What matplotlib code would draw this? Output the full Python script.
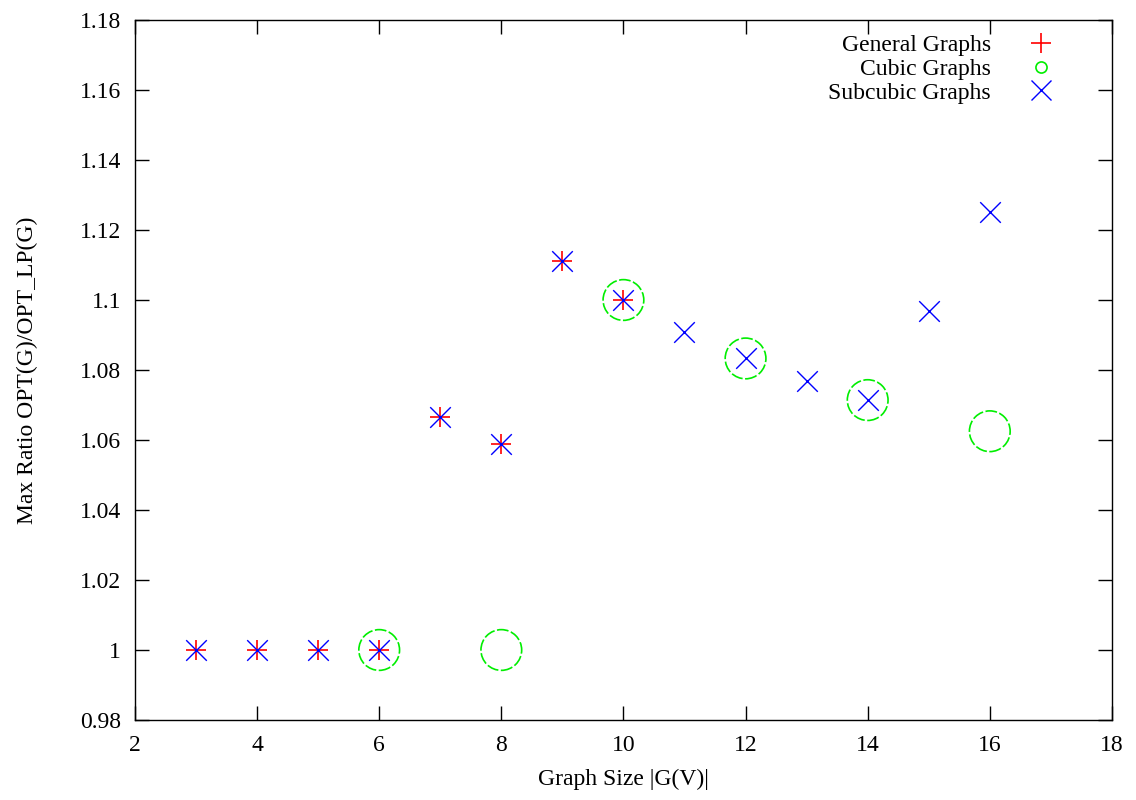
import matplotlib.pyplot as plt
from matplotlib.lines import Line2D

plt.rcParams['font.family'] = ['Liberation Serif', 'DejaVu Serif']

# data
gen_x = [3, 4, 5, 6, 7, 8, 9, 10]
gen_y = [1.0, 1.0, 1.0, 1.0, 1.0667, 1.0588, 1.1111, 1.1]

cub_x = [6, 8, 10, 12, 14, 16]
cub_y = [1.0, 1.0, 1.1, 1.0833, 1.0714, 1.0625]

sub_x = [3, 4, 5, 6, 7, 8, 9, 10, 11, 12, 13, 14, 15, 16]
sub_y = [1.0, 1.0, 1.0, 1.0, 1.0667, 1.0588, 1.1111, 1.1, 1.0909,
         1.0833, 1.0769, 1.0714, 1.0968, 1.125]

xticks = [2, 4, 6, 8, 10, 12, 14, 16, 18]
yticks = [0.98, 1.0, 1.02, 1.04, 1.06, 1.08, 1.1, 1.12, 1.14, 1.16, 1.18]
ytick_labels = ['0.98', '1', '1.02', '1.04', '1.06', '1.08', '1.1',
                '1.12', '1.14', '1.16', '1.18']

fig = plt.figure(figsize=(11.36, 8), dpi=100)
ax = fig.add_axes([0.1188, 0.1, 0.860, 0.875])

ax.scatter(gen_x, gen_y, marker='+', s=210, color='#ff0000', linewidths=1.2, zorder=3)
ax.scatter(cub_x, cub_y, marker='o', s=860, facecolors='none', edgecolors='#00ee00',
           linewidths=1.2, linestyle=(0, (7, 1.5)), zorder=3)
ax.scatter(sub_x, sub_y, marker='x', s=220, color='#0000ff', linewidths=1.0, zorder=4)

ax.set_xlim(2, 18)
ax.set_ylim(0.98, 1.18)
ax.set_xticks(xticks)
ax.set_yticks(yticks)
ax.set_yticklabels(ytick_labels)
ax.tick_params(direction='in', length=10, width=1, top=True, right=True, labelsize=17)
ax.tick_params(axis='x', pad=11)
ax.tick_params(axis='y', pad=10)
for s in ax.spines.values():
    s.set_linewidth(1)

ax.set_xlabel('Graph Size |G(V)|', fontsize=17, labelpad=9)
ax.set_ylabel('Max Ratio OPT(G)/OPT_LP(G)', fontsize=17, labelpad=30)

handles = [
    Line2D([], [], marker='+', linestyle='none', color='#ff0000', markersize=14, markeredgewidth=1.2),
    Line2D([], [], marker='o', linestyle='none', markerfacecolor='none', markeredgecolor='#00ee00',
           markersize=8, markeredgewidth=1.2, linewidth=0),
    Line2D([], [], marker='x', linestyle='none', color='#0000ff', markersize=15, markeredgewidth=1.0),
]
ax.legend(handles, ['General Graphs', 'Cubic Graphs', 'Subcubic Graphs'],
          loc='upper right', frameon=False, markerfirst=False, fontsize=17,
          handletextpad=1.15, labelspacing=0.1, borderaxespad=0.3,
          bbox_to_anchor=(0.969, 1.003))

fig.savefig('out.png', dpi=100)
